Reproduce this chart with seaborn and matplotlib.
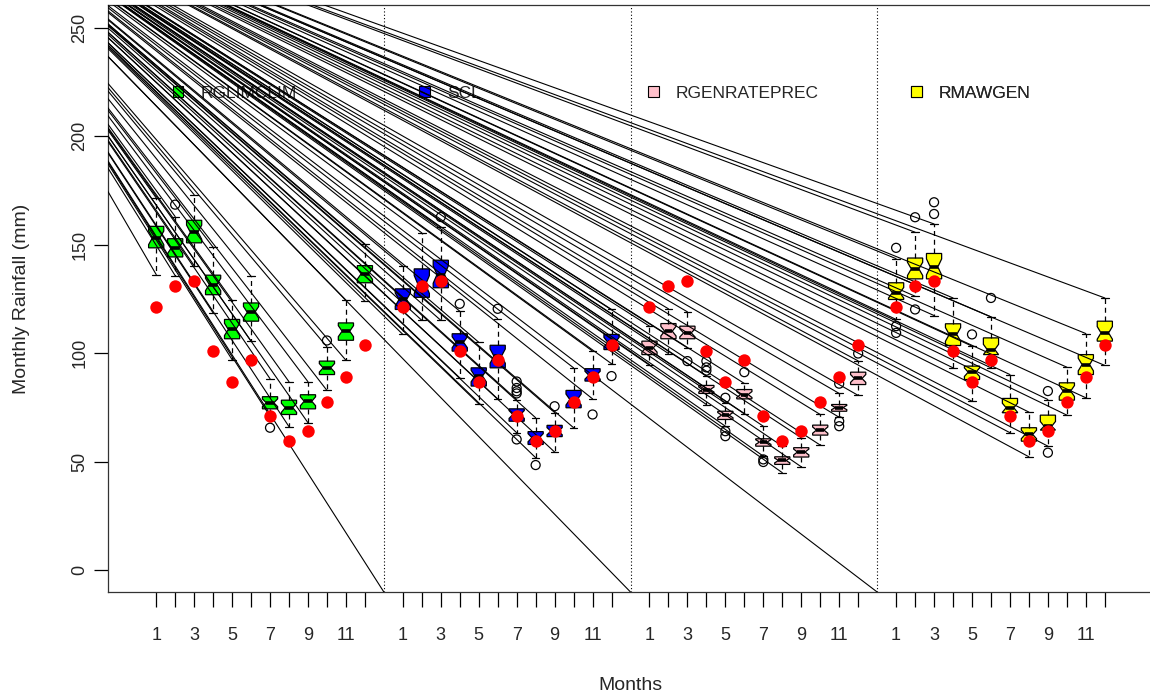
import numpy as np
import pandas as pd
import matplotlib
matplotlib.use("Agg")
import matplotlib.pyplot as plt
from matplotlib.patches import Patch
import seaborn as sns

# ---------------- data ----------------
months = list(range(1, 13))
models = ["RGLIMCLIM", "SCL", "RGENRATEPREC", "RMAWGEN"]
model_colors = ["#00FF00", "#0000FF", "#FFC0CB", "#FFFF00"]

observed = [121.5, 131, 133.5, 101, 87, 97, 71, 59.5, 64, 77.5, 89, 104]

rglimclim_lo  = [136.3, 135.8, 140.4, 118.6, 97.1, 105.6, 71.0, 66.2, 68.0, 82.9, 96.8, 124.0]
rglimclim_q1  = [148.6, 144.4, 150.9, 127.0, 106.7, 114.8, 74.4, 71.8, 74.4, 90.2, 106.0, 132.5]
rglimclim_med = [153.2, 148.6, 155.8, 131.7, 111.0, 118.9, 77.2, 74.9, 77.9, 93.3, 110.2, 136.6]
rglimclim_q3  = [158.5, 152.8, 161.3, 136.0, 115.6, 123.2, 80.0, 78.4, 80.9, 96.4, 114.0, 140.4]
rglimclim_hi  = [171.6, 163.0, 173.1, 148.9, 124.5, 135.5, 88.3, 86.9, 86.9, 103.0, 124.5, 150.4]
rglimclim_out_month = [2, 7, 10]
rglimclim_out_value = [168.5, 65.7, 105.9]

scl_lo  = [108.7, 115.2, 115.2, 88.7, 76.7, 79.0, 63.4, 51.9, 54.5, 65.7, 79.0, 95.2]
scl_q1  = [120.2, 125.8, 130.2, 101.0, 84.9, 93.3, 68.7, 58.0, 61.6, 74.9, 87.2, 101.7]
scl_med = [124.8, 131.7, 136.3, 105.1, 89.5, 98.7, 71.8, 61.1, 64.1, 78.7, 89.9, 105.1]
scl_q3  = [129.7, 138.9, 142.9, 109.0, 93.3, 103.7, 74.4, 63.9, 66.8, 82.9, 92.9, 108.7]
scl_hi  = [140.1, 155.5, 158.0, 119.4, 105.1, 116.0, 78.7, 70.3, 72.7, 93.3, 101.0, 120.2]
scl_out_month = [3, 4, 6, 7, 7, 7, 7, 7, 8, 9, 11, 12]
scl_out_value = [162.8, 122.8, 120.5, 87.0, 84.0, 82.5, 81.5, 60.3, 48.5, 75.6, 71.8, 89.5]

rgen_lo  = [94.8, 99.9, 102.5, 76.4, 66.4, 72.1, 52.6, 45.0, 47.7, 57.7, 70.5, 80.6]
rgen_q1  = [99.4, 106.7, 106.7, 81.5, 69.5, 79.0, 57.2, 48.8, 52.2, 62.3, 73.3, 85.6]
rgen_med = [102.5, 110.2, 109.4, 83.3, 71.5, 81.0, 59.1, 50.6, 54.5, 64.6, 75.0, 88.4]
rgen_q3  = [105.6, 113.7, 112.5, 85.2, 73.3, 83.3, 60.6, 52.3, 56.5, 66.9, 76.4, 91.3]
rgen_hi  = [112.5, 120.5, 119.1, 89.5, 77.0, 86.1, 66.4, 57.2, 61.1, 71.8, 81.5, 96.5]
rgen_out_month = [3, 4, 4, 4, 5, 5, 5, 6, 7, 7, 11, 11, 11, 12]
rgen_out_value = [96.4, 96.4, 93.5, 92.0, 79.5, 64.1, 61.8, 91.3, 51.1, 49.9, 86.0, 68.7, 66.4, 99.9]

rmawgen_lo  = [115.6, 126.3, 117.4, 93.3, 77.9, 93.3, 63.4, 52.3, 57.2, 71.5, 79.5, 94.4]
rmawgen_q1  = [124.8, 134.3, 134.3, 103.6, 87.9, 99.4, 72.6, 59.5, 64.6, 78.4, 90.2, 105.6]
rmawgen_med = [127.9, 138.9, 139.8, 108.7, 91.3, 101.7, 74.9, 62.6, 66.4, 82.6, 94.8, 109.4]
rmawgen_q3  = [132.5, 143.9, 146.0, 113.6, 94.1, 107.1, 79.2, 65.7, 71.5, 86.4, 99.4, 114.8]
rmawgen_hi  = [143.6, 155.8, 159.6, 125.5, 103.3, 116.8, 90.2, 72.9, 78.7, 93.6, 109.1, 125.5]
rmawgen_out_month = [1, 1, 1, 2, 2, 3, 3, 5, 6, 9, 9]
rmawgen_out_value = [148.6, 112.5, 109.4, 162.7, 120.2, 169.6, 164.2, 108.7, 125.5, 82.6, 54.2]

sample_size = 25              # years per box (sets notch depth like R)
fan_origin_pos = -11.77       # common start of the stray segments
fan_origin_value = 328.4
axis_floor = -10.0            # y-limit bottom (where separator segments end)

# ---------------- assemble ----------------
box_tables = [
    (rglimclim_lo, rglimclim_q1, rglimclim_med, rglimclim_q3, rglimclim_hi),
    (scl_lo, scl_q1, scl_med, scl_q3, scl_hi),
    (rgen_lo, rgen_q1, rgen_med, rgen_q3, rgen_hi),
    (rmawgen_lo, rmawgen_q1, rmawgen_med, rmawgen_q3, rmawgen_hi),
]
outlier_tables = [
    (rglimclim_out_month, rglimclim_out_value),
    (scl_out_month, scl_out_value),
    (rgen_out_month, rgen_out_value),
    (rmawgen_out_month, rmawgen_out_value),
]
group_step = len(months) + 1
separators = [group_step * (g + 1) for g in range(len(models) - 1)]

sns.set_theme(style="ticks")
plt.rcParams["font.family"] = ["Liberation Sans", "DejaVu Sans"]

fig = plt.figure(figsize=(11.5, 7), dpi=100)
ax = fig.add_axes([108 / 1150, 108 / 700, 1045 / 1150, 587 / 700])

positions_all, labels_all = [], []
out_rows, obs_rows, seg_rows = [], [], []
seg_id = 0
for g, (name, col) in enumerate(zip(models, model_colors)):
    lo, q1, med, q3, hi = box_tables[g]
    stats, pos = [], []
    for i, m in enumerate(months):
        p = g * group_step + m
        iqr = q3[i] - q1[i]
        half = 1.58 * iqr / np.sqrt(sample_size)
        stats.append(dict(whislo=lo[i], q1=q1[i], med=med[i], q3=q3[i], whishi=hi[i],
                          cilo=max(q1[i], med[i] - half), cihi=min(q3[i], med[i] + half),
                          fliers=[]))
        pos.append(p)
        positions_all.append(p)
        labels_all.append(str(m) if m % 2 == 1 else "")
        obs_rows.append((p, observed[i]))
        for v in (lo[i], hi[i]):
            seg_rows.append((seg_id, fan_origin_pos, fan_origin_value))
            seg_rows.append((seg_id, p, v))
            seg_id += 1
    ax.bxp(stats, positions=pos, widths=0.8, shownotches=True, patch_artist=True,
           showfliers=False, capwidths=0.4,
           boxprops=dict(facecolor=col, edgecolor="black", linewidth=0.9),
           whiskerprops=dict(color="black", linewidth=0.9, linestyle=(0, (4, 3))),
           capprops=dict(color="black", linewidth=0.9),
           medianprops=dict(color="black", linewidth=2.6, solid_capstyle="butt"))
    om, ov = outlier_tables[g]
    for m, v in zip(om, ov):
        out_rows.append((g * group_step + m, v))

for s in separators:
    seg_rows.append((seg_id, fan_origin_pos, fan_origin_value))
    seg_rows.append((seg_id, s, axis_floor))
    seg_id += 1

out_df = pd.DataFrame(out_rows, columns=["pos", "value"])
obs_df = pd.DataFrame(obs_rows, columns=["pos", "value"])
seg_df = pd.DataFrame(seg_rows, columns=["seg", "pos", "value"])

# legend (drawn first so the stray lines pass over it)
legend_x = [0.0622, 0.2977, 0.5169, 0.7687]
for name, col, lx in zip(models, model_colors, legend_x):
    leg = ax.legend(handles=[Patch(facecolor=col, edgecolor="black", linewidth=0.8)],
                    labels=[name], loc="center left", bbox_to_anchor=(lx, 0.85),
                    frameon=False, fontsize=12.5, handlelength=0.6, handleheight=0.6,
                    handletextpad=1.0, borderpad=0, borderaxespad=0)
    leg.set_zorder(1)
    ax.add_artist(leg)

for s in separators:
    ax.axvline(s, color="black", linestyle=(0, (1, 2)), linewidth=0.8, zorder=1)

sns.lineplot(data=seg_df, x="pos", y="value", units="seg", estimator=None, sort=False,
             color="black", linewidth=0.8, legend=False, ax=ax, zorder=3)

sns.scatterplot(data=out_df, x="pos", y="value", marker="o", s=42,
                facecolors="none", edgecolor="black", linewidth=0.9, ax=ax, zorder=4,
                legend=False)
sns.scatterplot(data=obs_df, x="pos", y="value", marker="o", s=80, color="red",
                edgecolor="red", linewidth=0, ax=ax, zorder=5, legend=False)

ax.set_xlim(-1.54, 53.54)
ax.set_ylim(axis_floor, 260.5)
ax.set_xticks(positions_all)
ax.set_xticklabels(labels_all)
ax.set_yticks([0, 50, 100, 150, 200, 250])
ax.tick_params(axis="x", length=11, width=0.9, pad=14, labelsize=13, color="black")
ax.tick_params(axis="y", length=10, width=0.9, pad=4, labelsize=13, color="black",
               labelrotation=90)
for lab in ax.get_yticklabels():
    lab.set_va("center")
for sp in ax.spines.values():
    sp.set_color("#333333")
    sp.set_linewidth(0.9)

ax.set_xlabel("Months", fontsize=14, labelpad=24)
ax.set_ylabel("Monthly Rainfall (mm)", fontsize=14, labelpad=30)
ax.grid(False)

fig.savefig("out.png", dpi=100)
